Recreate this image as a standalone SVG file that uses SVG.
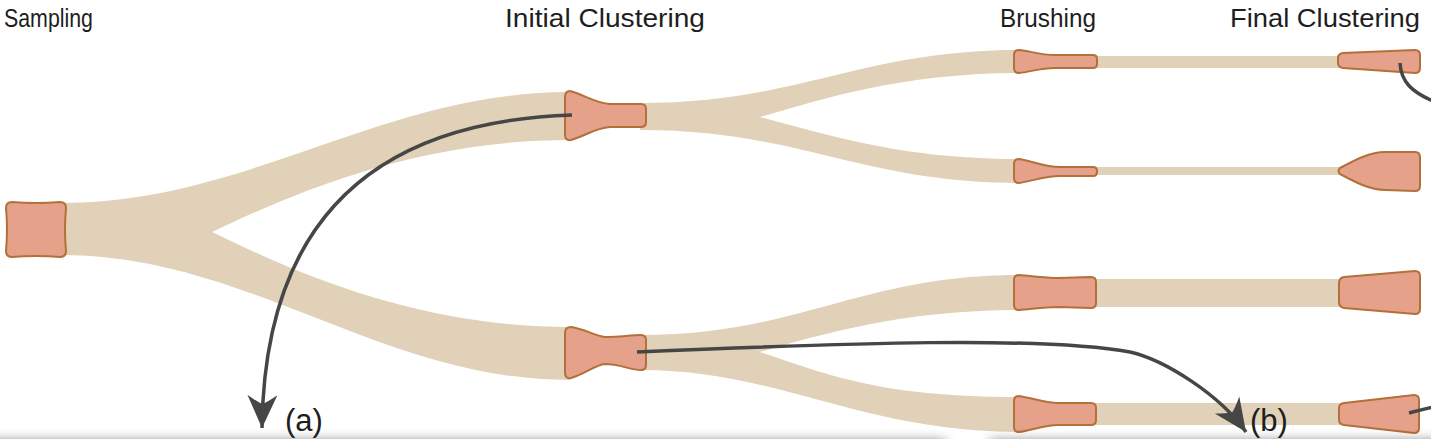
<svg xmlns="http://www.w3.org/2000/svg" width="1431" height="439" viewBox="0 0 1431 439">
  <style>
    .band { fill: #e0d1b8; stroke: none; }
    .node { fill: #e5a18a; stroke: #b3703a; stroke-width: 2; stroke-linejoin: round; }
    .arrow { fill: none; stroke: #464646; stroke-width: 3.5; stroke-linecap: butt; }
    .head { font-family: "Liberation Sans", Arial, sans-serif; font-size: 26px; fill: #1e1e1e; }
    .tag { font-family: "Liberation Sans", Arial, sans-serif; font-size: 31px; fill: #1e1e1e; }
    .shade { fill: #000000; fill-opacity: 0.55; }
  </style>
  <defs>
    <marker id="ah" viewBox="-34 -17 36 34" refX="0" refY="0" markerWidth="36" markerHeight="34" markerUnits="userSpaceOnUse" orient="auto">
      <path d="M0,0 L-33,-15 Q-26,-5 -24,0 Q-26,5 -33,15 Z" fill="#464646"/>
    </marker>
    <filter id="blur" x="-10%" y="-100%" width="120%" height="300%">
      <feGaussianBlur stdDeviation="6"/>
    </filter>
  </defs>
  <rect width="1431" height="439" fill="#ffffff"/>

  <g id="flows">
    <path class="band" d="M60,203 C250,203 380,92 570,92 L570,140 C420,140 300,190 212,232 C300,275 420,327 570,327 L570,380 C380,380 250,255 60,255 Z"/>
    <path class="band" d="M640,103 C800,103 860,50 1020,50 L1020,73 C900,73 820,100 760,117 C830,135 900,159 1020,159 L1020,183 C860,183 800,130 640,130 Z"/>
    <path class="band" d="M640,335 C800,335 860,275 1020,275 L1020,310 C900,310 820,335 760,352 C830,375 880,397 1020,397 L1020,432 C860,432 780,370 640,370 Z"/>
    <rect class="band" x="1090" y="56" width="255" height="12"/>
    <rect class="band" x="1090" y="167" width="255" height="8"/>
    <rect class="band" x="1090" y="279" width="255" height="28"/>
    <rect class="band" x="1090" y="403" width="255" height="22"/>
  </g>

  <g id="sampling">
    <path class="node" d="M12,202 Q36,204 60,202 Q66,202 66,208 Q64,229 66,251 Q66,257 60,257 Q36,255 12,257 Q6,257 6,251 Q8,229 6,208 Q6,202 12,202 Z"/>
  </g>
  <g id="initial1">
    <path class="node" d="M570,91 Q565,91 565,97 L565,135 Q565,141 571,140 C585,136 595,128 610,127 L641,127 Q646,127 646,122 L646,109 Q646,104 641,104 L610,104 C595,103 585,95 570,91 Z"/>
  </g>
  <g id="initial2">
    <path class="node" d="M571,327 Q565,327 565,333 L565,373 Q565,379 571,378 C585,374 595,365 605,364 C620,364 630,370 641,370 Q646,370 646,365 L646,340 Q646,335 641,335 C630,335 620,337 605,337 C595,336 585,329 571,327 Z"/>
  </g>
  <g id="brushing1">
    <path class="node" d="M1019,50 Q1014,50 1014,55 L1014,68 Q1014,73 1019,73 C1030,72 1040,68 1055,68 L1093,68 Q1097,68 1097,64 L1097,59 Q1097,55 1093,55 L1055,55 C1040,55 1030,51 1019,50 Z"/>
  </g>
  <g id="brushing2">
    <path class="node" d="M1019,159 Q1014,159 1014,164 L1014,178 Q1014,183 1019,183 C1032,181 1045,176 1060,176 L1093,176 Q1097,176 1097,172 L1097,171 Q1097,167 1093,167 L1060,167 C1045,167 1032,161 1019,159 Z"/>
  </g>
  <g id="brushing3">
    <path class="node" d="M1019,275 Q1014,275 1014,280 L1014,305 Q1014,310 1019,310 C1032,309 1045,307 1058,307 L1091,308 Q1096,308 1096,303 L1096,282 Q1096,277 1091,277 L1058,278 C1045,278 1032,276 1019,275 Z"/>
  </g>
  <g id="brushing4">
    <path class="node" d="M1019,396 Q1014,396 1014,401 L1014,427 Q1014,432 1019,432 C1032,430 1045,425 1058,425 L1091,425 Q1096,425 1096,420 L1096,408 Q1096,403 1091,403 L1058,403 C1045,403 1032,398 1019,396 Z"/>
  </g>
  <g id="final1">
    <path class="node" d="M1343,53 L1415,50 Q1420,50 1420,55 L1420,68 Q1420,73 1415,73 L1343,68 Q1338,67 1338,63 L1338,58 Q1338,54 1343,53 Z"/>
  </g>
  <g id="final2">
    <path class="node" d="M1340,168 C1355,160 1370,152 1385,152 L1415,152 Q1420,152 1420,157 L1420,186 Q1420,191 1415,191 L1385,190 C1370,190 1355,182 1340,174 Q1337,171 1340,168 Z"/>
  </g>
  <g id="final3">
    <path class="node" d="M1344,277 L1415,271 Q1420,271 1420,276 L1420,309 Q1420,314 1415,314 L1344,308 Q1339,307 1339,302 L1339,283 Q1339,278 1344,277 Z"/>
  </g>
  <g id="final4">
    <path class="node" d="M1344,403 L1414,395 Q1419,395 1419,400 L1419,428 Q1419,433 1414,433 L1344,425 Q1339,424 1339,420 L1339,408 Q1339,404 1344,403 Z"/>
  </g>

  <g id="shadow" filter="url(#blur)">
    <rect class="shade" x="-30" y="441" width="975" height="40"/>
    <rect class="shade" x="990" y="441" width="480" height="40"/>
  </g>

  <g id="connectors">
    <path class="arrow" d="M572,115 C420,120 265,180 262,428" marker-end="url(#ah)"/>
    <path class="arrow" d="M637,352 C850,343 1040,336 1130,352 C1165,360 1220,395 1246,432" marker-end="url(#ah)"/>
    <path class="arrow" d="M1400,63 C1401,82 1412,92 1433,101"/>
    <path class="arrow" d="M1409,413 Q1420,410 1433,407"/>
  </g>

  <g id="labels">
    <text class="head" x="4" y="27" textLength="89" lengthAdjust="spacingAndGlyphs">Sampling</text>
    <text class="head" x="505" y="27" textLength="200" lengthAdjust="spacingAndGlyphs">Initial Clustering</text>
    <text class="head" x="1000" y="27" textLength="96" lengthAdjust="spacingAndGlyphs">Brushing</text>
    <text class="head" x="1230" y="27" textLength="190" lengthAdjust="spacingAndGlyphs">Final Clustering</text>
    <text class="tag" x="285" y="431">(a)</text>
    <text class="tag" x="1250" y="431">(b)</text>
  </g>
</svg>
